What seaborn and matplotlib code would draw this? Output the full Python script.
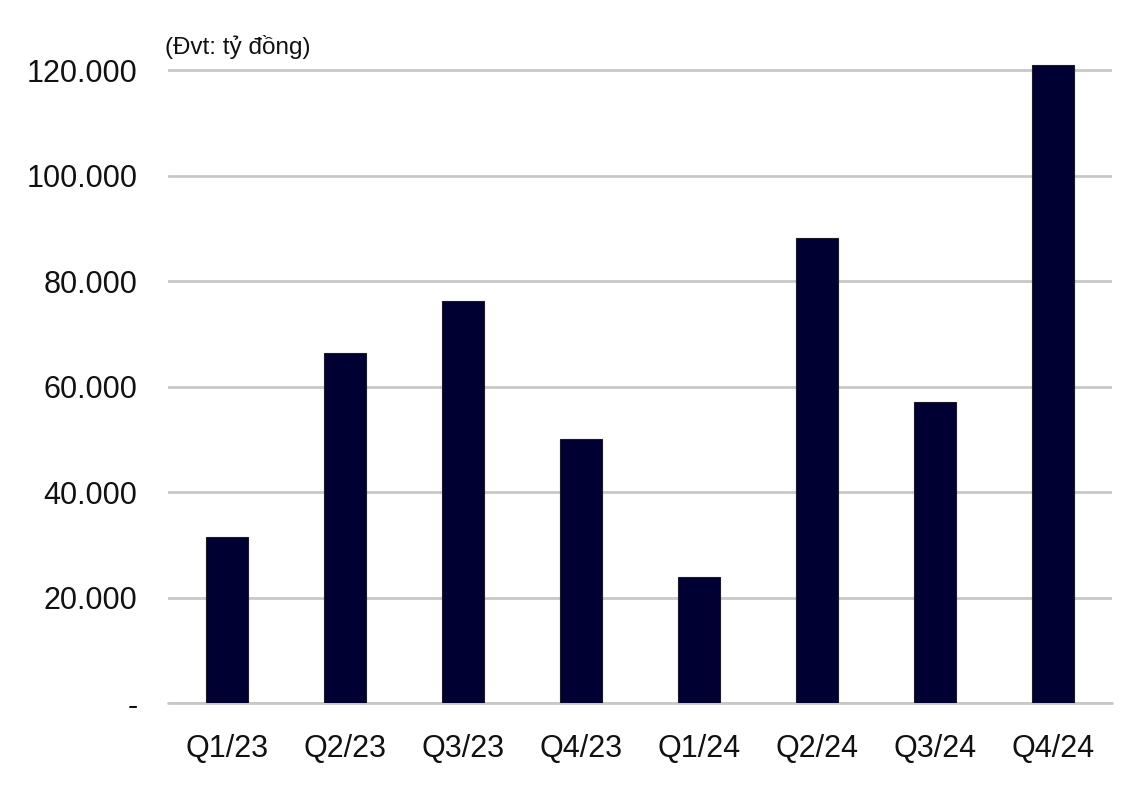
import matplotlib.pyplot as plt
import matplotlib.ticker as mticker
import seaborn as sns
import pandas as pd

quarters = ['Q1/23', 'Q2/23', 'Q3/23', 'Q4/23', 'Q1/24', 'Q2/24', 'Q3/24', 'Q4/24']
values = [31500, 66300, 76200, 50000, 23900, 88100, 57100, 120900]
y_ticks = [0, 20000, 40000, 60000, 80000, 100000, 120000]

sns.set_style('white')
plt.rcParams['font.family'] = ['Liberation Sans', 'DejaVu Sans']

df = pd.DataFrame({'quarter': quarters, 'value': values})

fig = plt.figure(figsize=(11.41, 8.05), dpi=100)
ax = fig.add_axes([168 / 1141, 1 - 703 / 805, (1112 - 168) / 1141, (703 - 59.5) / 805])

sns.barplot(x='quarter', y='value', data=df, color='#000033', width=0.36,
            edgecolor='#1a1a2a', linewidth=0.8, saturation=1, ax=ax, zorder=3)

ax.set_ylim(0, 122000)
ax.set_xlim(-0.5, 7.5)
ax.set_yticks(y_ticks)
ax.yaxis.set_major_formatter(mticker.FuncFormatter(
    lambda v, p: '-' if v == 0 else f'{int(v):,}'.replace(',', '.')))
ax.grid(axis='y', color='#c8c8c8', linewidth=2, zorder=0)
ax.axhline(0, color='#c8c8c8', linewidth=2, zorder=1, clip_on=False)
ax.set_axisbelow(True)
for s in ax.spines.values():
    s.set_visible(False)
ax.tick_params(axis='y', labelsize=22, pad=22, length=0, colors='#111111')
ax.tick_params(axis='x', labelsize=22, pad=22, length=0, colors='#111111')
ax.set_xlabel('')
ax.set_ylabel('')

fig.text(165 / 1141, 1 - 35 / 805, '(Đvt: tỷ đồng)', fontsize=17.5, va='top', ha='left',
         color='#111111')

plt.savefig('out.png', dpi=100)
plt.close()
